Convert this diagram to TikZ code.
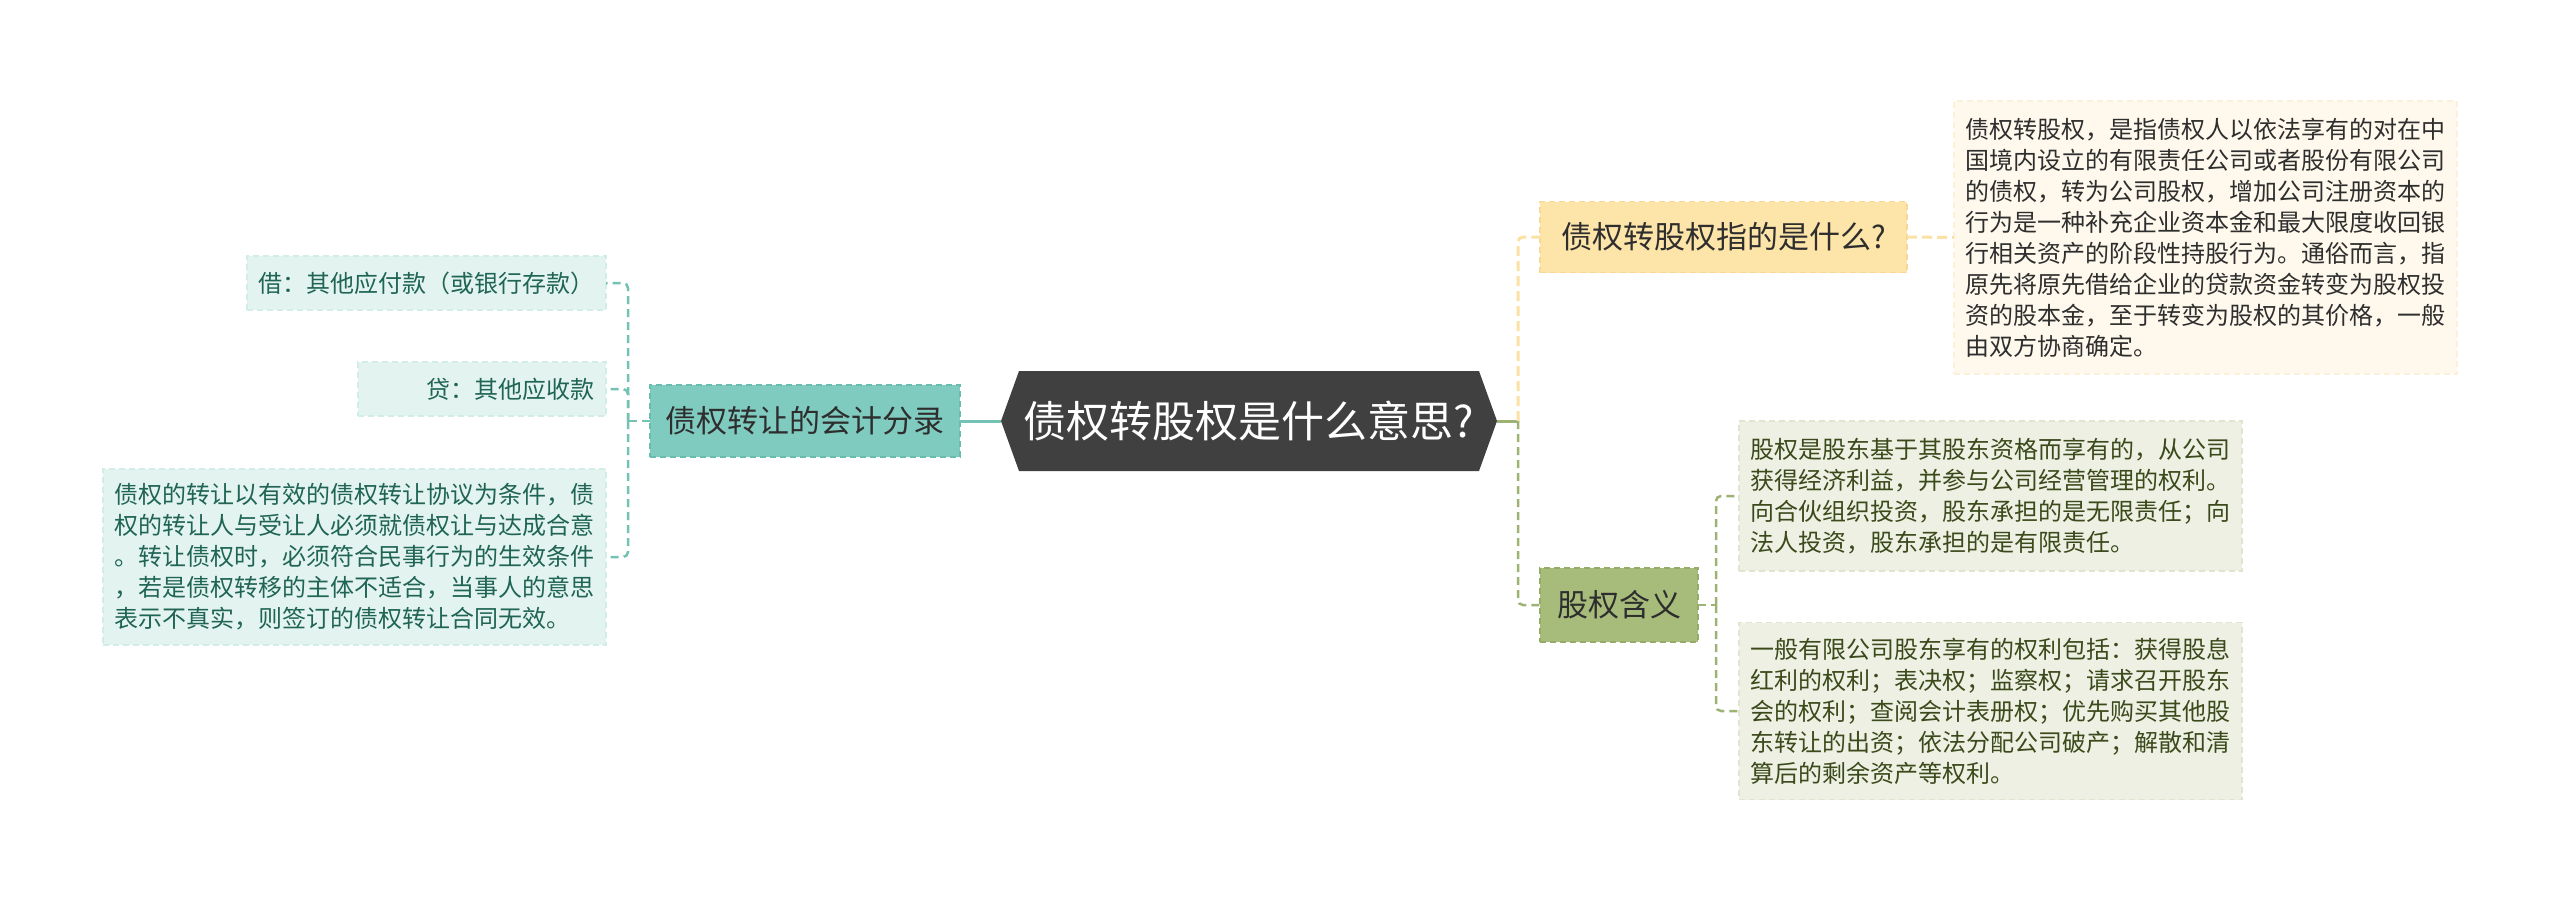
\documentclass[tikz,border=0pt]{standalone}
\usepackage{fontspec}
\newfontfamily\cjk{Noto Sans CJK SC}
\usetikzlibrary{calc}
\setlength\parindent{0pt}
\definecolor{hexfill}{HTML}{404040}
\definecolor{tealmain}{HTML}{80CBBF}
\definecolor{tealmainbd}{HTML}{68BDAE}
\definecolor{tealleaf}{HTML}{E3F4F0}
\definecolor{tealleafbd}{HTML}{D2ECE6}
\definecolor{tealtext}{HTML}{1F6454}
\definecolor{tealline}{HTML}{74C2B4}
\definecolor{yelmain}{HTML}{FDE4A8}
\definecolor{yelmainbd}{HTML}{F8D894}
\definecolor{yelleaf}{HTML}{FEF9EC}
\definecolor{yelleafbd}{HTML}{FBF1DA}
\definecolor{yelline}{HTML}{FBE1A4}
\definecolor{grnmain}{HTML}{A7BC7B}
\definecolor{grnmainbd}{HTML}{94AC68}
\definecolor{grnleaf}{HTML}{EDF0E3}
\definecolor{grnleafbd}{HTML}{E0E5D0}
\definecolor{grntext}{HTML}{3B491B}
\definecolor{grnline}{HTML}{9DB374}
\definecolor{txt}{HTML}{2E2E2E}
\tikzset{
  base/.style={font=\cjk\fontsize{24}{31}\selectfont, inner sep=0pt, outer sep=0pt, dashed, dash pattern=on 6pt off 4pt, line width=1.5pt},
  mainbox/.style={base, font=\cjk\fontsize{31}{36}\selectfont, text=txt},
  parabox/.style={base, text width=480pt, align=left, inner xsep=11.5pt},
  tealleafbox/.style={base, fill=tealleaf, draw=tealleafbd, text=tealtext, inner xsep=11.5pt},
  yelleafbox/.style={parabox, fill=yelleaf, draw=yelleafbd, text=txt},
  grnleafbox/.style={parabox, fill=grnleaf, draw=grnleafbd, text=grntext},
  tdash/.style={draw=tealline, line width=2.5pt, dash pattern=on 8pt off 5pt, rounded corners=5pt},
  ydash/.style={draw=yelline, line width=3pt, dash pattern=on 10pt off 5pt, rounded corners=5pt},
  gdash/.style={draw=grnline, line width=2.5pt, dash pattern=on 8pt off 5pt, rounded corners=5pt},
}
\begin{document}
\begin{tikzpicture}[x=1pt,y=-1pt]
\useasboundingbox (0,0) rectangle (2560,903);
% center hexagon
\fill[hexfill] (1001,421) -- (1019,371) -- (1479,371) -- (1497,421) -- (1479,471) -- (1019,471) -- cycle;
\node[font=\cjk\fontsize{43}{50}\selectfont, text=white, minimum width=496pt, minimum height=100pt, inner sep=0pt, outer sep=0pt] (hex) at (1249,421) {债权转股权是什么意思?};

% left branch
\node[mainbox, fill=tealmain, draw=tealmainbd, minimum width=310pt, minimum height=72pt] (lm) at (805,421) {债权转让的会计分录};
\node[tealleafbox, minimum width=359pt, minimum height=54pt] (l1) at (426.5,283) {借：其他应付款（或银行存款）};
\node[tealleafbox, text width=225pt, align=right, minimum height=54pt] (l2) at (482,389) {贷：其他应收款};
\node[parabox, fill=tealleaf, draw=tealleafbd, text=tealtext, minimum height=176pt] (l3) at (354.5,557) {债权的转让以有效的债权转让协议为条件，债\\权的转让人与受让人必须就债权让与达成合意\\。转让债权时，必须符合民事行为的生效条件\\，若是债权转移的主体不适合，当事人的意思\\表示不真实，则签订的债权转让合同无效。};

\coordinate (lj) at (628,421);
\draw[tealline, line width=3pt] (lm.east) -- (hex.west);
\draw[tdash] (lm.west) -- (lj);
\draw[tdash] (lj) |- (l1.east);
\draw[tdash] (lj) |- (l2.east);
\draw[tdash] (lj) |- (l3.east);

% right branch
\node[mainbox, fill=yelmain, draw=yelmainbd, minimum width=367pt, minimum height=71pt] (r1) at (1723.5,237) {债权转股权指的是什么?};
\node[yelleafbox, minimum height=273pt] (r1p) at (2205.5,237.5) {债权转股权，是指债权人以依法享有的对在中\\国境内设立的有限责任公司或者股份有限公司\\的债权，转为公司股权，增加公司注册资本的\\行为是一种补充企业资本金和最大限度收回银\\行相关资产的阶段性持股行为。通俗而言，指\\原先将原先借给企业的贷款资金转变为股权投\\资的股本金，至于转变为股权的其价格，一般\\由双方协商确定。};

\node[mainbox, fill=grnmain, draw=grnmainbd, minimum width=158pt, minimum height=74pt] (r2) at (1619,605) {股权含义};
\node[grnleafbox, minimum height=150pt] (r2a) at (1990.5,496) {股权是股东基于其股东资格而享有的，从公司\\获得经济利益，并参与公司经营管理的权利。\\向合伙组织投资，股东承担的是无限责任；向\\法人投资，股东承担的是有限责任。};
\node[grnleafbox, minimum height=177pt] (r2b) at (1990.5,711) {一般有限公司股东享有的权利包括：获得股息\\红利的权利；表决权；监察权；请求召开股东\\会的权利；查阅会计表册权；优先购买其他股\\东转让的出资；依法分配公司破产；解散和清\\算后的剩余资产等权利。};

\coordinate (rj) at (1518,421);
\coordinate (gj) at (1716,605);
\draw[grnline, line width=3pt] (hex.east) -- (rj);
\draw[ydash] (rj) |- (r1.west);
\draw[gdash] (rj) |- (r2.west);
\draw[ydash] (r1.east) -- (r1p.west);
\draw[gdash] (r2.east) -- (gj);
\draw[gdash] (gj) |- (r2a.west);
\draw[gdash] (gj) |- (r2b.west);
\end{tikzpicture}
\end{document}
